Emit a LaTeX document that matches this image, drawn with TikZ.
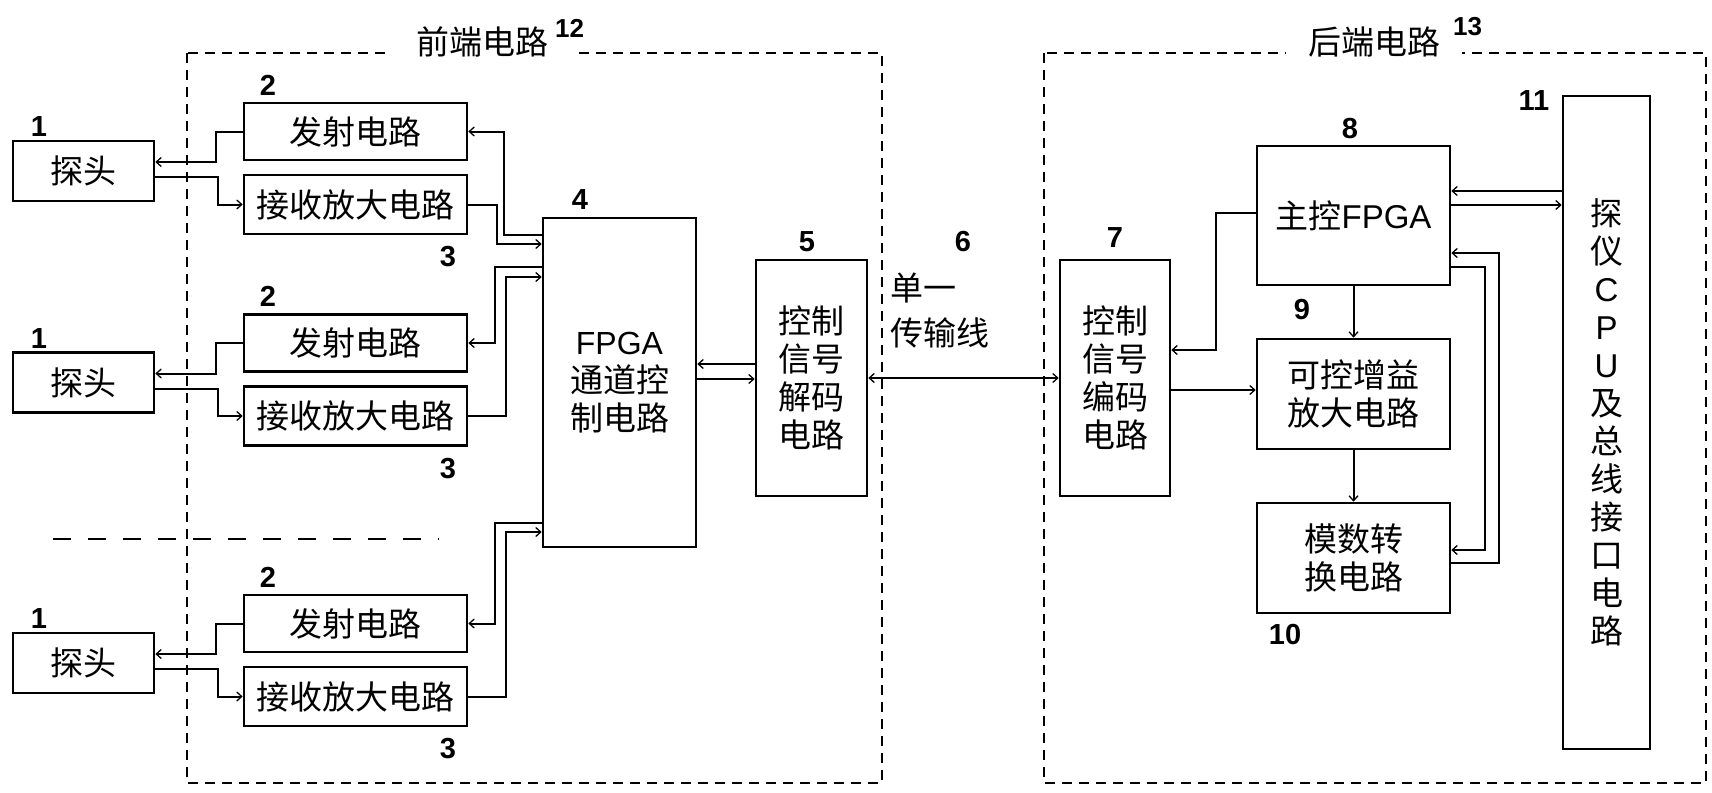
\documentclass[tikz,border=0pt]{standalone}
\usepackage{fontspec}
\setmainfont{Liberation Sans}
\newfontfamily\cjk{Noto Sans CJK SC}
\usetikzlibrary{arrows.meta}
\begin{document}
\begin{tikzpicture}[x=1pt,y=-1pt,
  box/.style={draw, line width=2.6pt, inner sep=0pt, align=center,
    font=\fontsize{33}{38}\selectfont\cjk},
  conn/.style={line width=2pt},
  arr/.style={conn, -{Straight Barb[length=5pt,width=9pt,line width=1.3pt]}},
  num/.style={font=\fontsize{29}{29}\selectfont\bfseries, inner sep=0pt},
  sup/.style={font=\fontsize{26}{26}\selectfont\bfseries, inner sep=0pt},
  title/.style={font=\fontsize{33}{33}\selectfont\cjk, fill=white, inner sep=3pt},
  frame/.style={line width=2pt, dash pattern=on 10pt off 7pt},
]
\useasboundingbox[fill=white] (0,0) rectangle (1712,792);

% dashed frames
\draw[frame] (187,53) rectangle (882,783);
\draw[frame] (1044,53) rectangle (1706,783);
\draw[line width=2.5pt, dash pattern=on 18pt off 17pt] (53,539) -- (439,539);

% titles
\node[title, minimum width=186pt] (t12) at (482,42) {前端电路};
\node[sup, anchor=west, fill=white, inner xsep=3pt] (n12l) at (552,28) {12};
\node[title, minimum width=176pt] (t13) at (1374,42) {后端电路};
\node[sup, anchor=west, fill=white, inner xsep=3pt] (n13l) at (1450,27) {13};

% front-end channel groups
\foreach \g/\d in {1/0, 2/211.5, 3/492} {
  \node[box, minimum width=141pt, minimum height=60pt] (p\g) at (83.5,171+\d) {探头};
  \node[box, minimum width=223pt, minimum height=57pt] (fs\g) at (355.5,131.5+\d) {发射电路};
  \node[box, minimum width=223pt, minimum height=59pt] (rx\g) at (355.5,204.5+\d) {接收放大电路};
  \node[num] (l1\g) at (39,127+\d) {1};
  \node[num] (l2\g) at (268,85+\d) {2};
  \node[num] (l3\g) at (448,257+\d) {3};
  \draw[arr] (fs\g.west) -- ++(-27,0) |- ([yshift=9pt]p\g.east);
  \draw[arr] ([yshift=-6pt]p\g.east) -- ++(63,0) |- (rx\g.west);
}

% FPGA channel control
\node[box, minimum width=153pt, minimum height=329pt] (f4) at (619.5,382.5)
  {\fontsize{32}{38}\selectfont\rmfamily FPGA\\通道控\\制电路};
\node[num] (l4) at (580,200) {4};

\draw[arr] ([yshift=147.5pt]f4.west) -- ++(-38,0) |- (fs1.east);
\draw[arr] (rx1.east) -- ++(29,0) |- ([yshift=138.5pt]f4.west);
\draw[arr] ([yshift=115.5pt]f4.west) -- ++(-47,0) |- (fs2.east);
\draw[arr] (rx2.east) -- ++(38,0) |- ([yshift=105.5pt]f4.west);
\draw[arr] ([yshift=-140.5pt]f4.west) -- ++(-47,0) |- (fs3.east);
\draw[arr] (rx3.east) -- ++(38,0) |- ([yshift=-149.5pt]f4.west);

% decoder
\node[box, minimum width=111pt, minimum height=236pt] (n5) at (811.5,378) {控制\\信号\\解码\\电路};
\node[num] (l5) at (807,242) {5};
\draw[arr] ([yshift=14pt]n5.west) -- ([yshift=14pt]n5.west -| f4.east);
\draw[arr] ([yshift=-1pt]n5.west -| f4.east) -- ([yshift=-1pt]n5.west);

% transmission line
\node[num] (l6) at (963,242) {6};
\node[anchor=west, align=left, inner sep=0pt, font=\fontsize{33}{45}\selectfont\cjk] (tl) at (890,310.5) {单一\\传输线};

% encoder
\node[box, minimum width=110pt, minimum height=236pt] (n7) at (1115,378) {控制\\信号\\编码\\电路};
\node[num] (l7) at (1115,238) {7};
\draw[conn, {Straight Barb[length=5pt,width=9pt,line width=1.3pt]}-{Straight Barb[length=5pt,width=9pt,line width=1.3pt]}] (n5.east) -- (n7.west);

% back-end blocks
\node[box, minimum width=193pt, minimum height=139pt] (n8) at (1353.5,215.5) {主控{\rmfamily FPGA}};
\node[num] (l8) at (1350,129) {8};
\node[box, minimum width=193pt, minimum height=110pt] (n9) at (1353.5,394) {可控增益\\放大电路};
\node[num] (l9) at (1302,310) {9};
\node[box, minimum width=193pt, minimum height=110pt] (n10) at (1353.5,558) {模数转\\换电路};
\node[num] (l10) at (1285,635) {10};
\node[box, minimum width=87pt, minimum height=653pt] (n11) at (1606.5,422.5)
  {\fontsize{32}{37.8}\selectfont 探\\仪\\{\rmfamily C}\\{\rmfamily P}\\{\rmfamily U}\\及\\总\\线\\接\\口\\电\\路};
\node[num] (l11) at (1534,101) {11};

\draw[arr] ([yshift=2.5pt]n8.west) -- ++(-40,0) |- ([yshift=28pt]n7.east);
\draw[arr] ([yshift=-12pt]n7.east) -- ([yshift=-12pt]n7.east -| n9.west);
\draw[arr] (n8.south) -- (n9.north);
\draw[arr] (n9.south) -- (n10.north);
\draw[arr] ([yshift=231.5pt]n11.west) -- ([yshift=231.5pt]n11.west -| n8.east);
\draw[arr] ([yshift=10.5pt]n8.east) -- ([yshift=10.5pt]n8.east -| n11.west);
\draw[arr] ([yshift=-51.5pt]n8.east) -- ++(34,0) |- ([yshift=8pt]n10.east);
\draw[arr] ([yshift=-5pt]n10.east) -- ++(48,0) |- ([yshift=-37.5pt]n8.east);
\end{tikzpicture}
\end{document}
